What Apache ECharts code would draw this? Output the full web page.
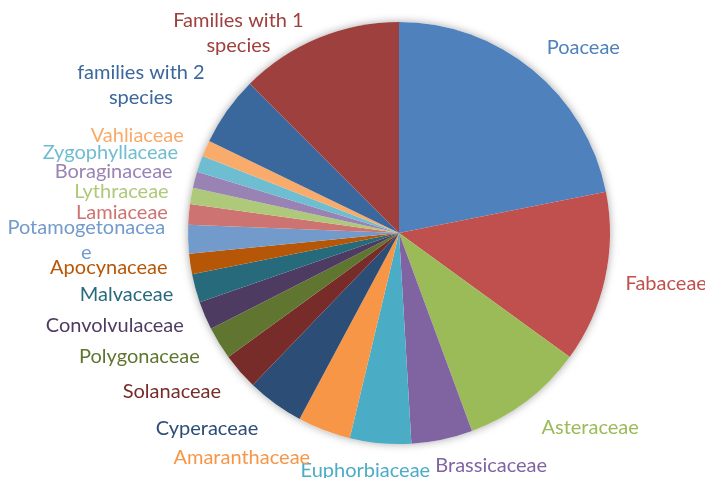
<!DOCTYPE html>
<html><head><meta charset="utf-8">
<script src="https://cdn.jsdelivr.net/npm/echarts@6/dist/echarts.min.js"></script>
<style>html,body{margin:0;padding:0;background:#fff}#c{width:705px;height:478px}</style>
</head><body><div id="c"></div>
<script>
var categories = ['Poaceae','Fabaceae','Asteraceae','Brassicaceae','Euphorbiaceae','Amaranthaceae','Cyperaceae','Solanaceae','Polygonaceae','Convolvulaceae','Malvaceae','Apocynaceae','Potamogetonaceae','Lamiaceae','Lythraceae','Boraginaceae','Zygophyllaceae','Vahliaceae','families with 2 species','Families with 1 species'];
var values = [70,42,30,15,15,13,14,9,8,7,7,5,7,5,4,4,4,4,17,40];
var colors = ['#4F81BD','#C0504D','#9BBB59','#8064A2','#4BACC6','#F79646','#2C4D75','#772C2A','#5F7530','#4D3B62','#276A7C','#B65708','#729ACA','#CD7371','#AFC97A','#9983B5','#6FBDD1','#F9AB6B','#3A679C','#9E413E'];
var labelText = {'Potamogetonaceae':'Potamogetonacea\ne','families with 2 species':'families with 2\nspecies','Families with 1 species':'Families with 1\nspecies'};
var nudge = {'Euphorbiaceae':[57,2],'Brassicaceae':[-17,2],'Amaranthaceae':[0,4],'Cyperaceae':[3,5],'Solanaceae':[5,4],'Asteraceae':[-5,6],'Poaceae':[-7,-3],'Fabaceae':[-9,0],'families with 2 species':[3,-11],'Families with 1 species':[0,18],'Vahliaceae':[6,-3],'Zygophyllaceae':[7,-3],'Boraginaceae':[7,-2],'Lamiaceae':[9,0]};

var chart = echarts.init(document.getElementById('c'));
var data = categories.map(function(n,i){return {name:n,value:values[i],itemStyle:{color:colors[i]},label:{color:colors[i]}};});
chart.setOption({
  animation:false,
  series:[
    {type:'pie',silent:true,center:[399,233],radius:211,data:[{value:1,name:''}],label:{show:false},labelLine:{show:false},
     itemStyle:{color:'#fff',shadowBlur:8,shadowColor:'rgba(0,0,0,0.35)'},z:1},
    {type:'pie',center:[399,233],radius:211,startAngle:90,clockwise:true,avoidLabelOverlap:false,z:2,
     data:data,
     itemStyle:{borderWidth:0},
     label:{position:'outside',fontFamily:'Lato',fontSize:20,lineHeight:25,
       formatter:function(p){return labelText[p.name]||p.name;}},
     labelLine:{show:false,length:25,length2:0},
     labelLayout:function(p){
       var r=p.labelRect; var name=categories[p.dataIndex];
       var cx=r.x+r.width/2;
       var n=nudge[name]||[cx<399?7:-7,0];
       return {x:cx+n[0],y:r.y+r.height/2+n[1],align:'center',verticalAlign:'middle'};
     }
    }
  ]
});
</script></body></html>
